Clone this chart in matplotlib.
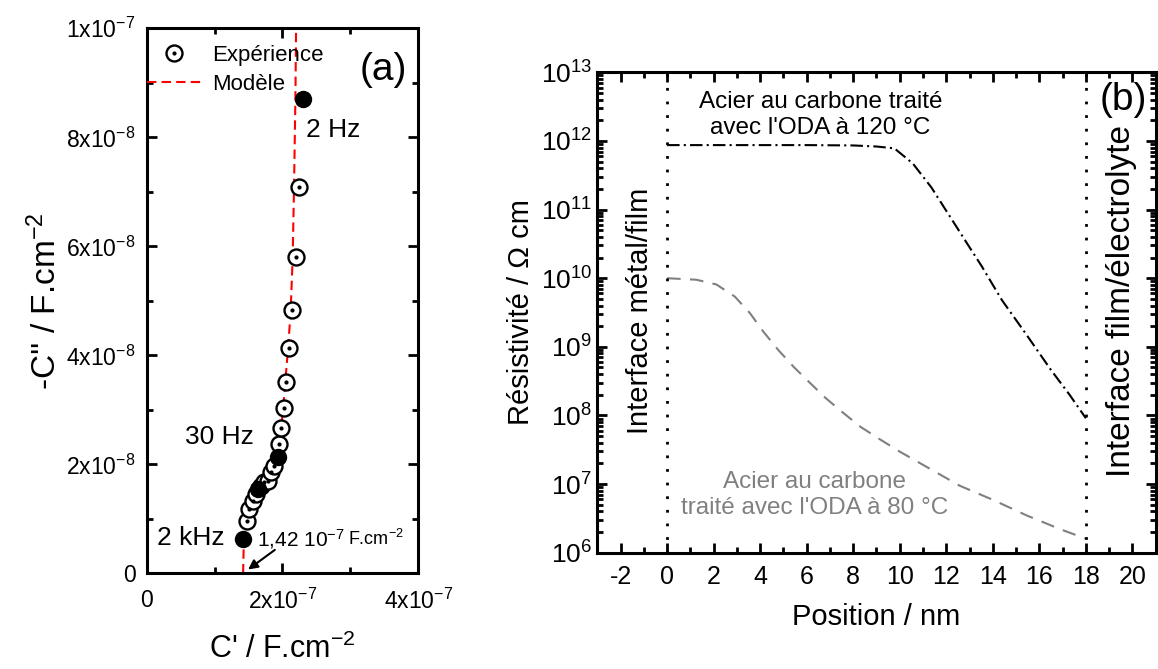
import numpy as np
import matplotlib
matplotlib.use("Agg")
import matplotlib.pyplot as plt
from matplotlib.ticker import LogLocator, NullFormatter, MultipleLocator

plt.rcParams['font.family'] = ['Liberation Sans', 'DejaVu Sans']
plt.rcParams['mathtext.default'] = 'regular'
plt.rcParams['axes.unicode_minus'] = False

# ---- panel (a): C'' vs C' ----
exp_x = [1.479e-7, 1.512e-7, 1.561e-7, 1.611e-7, 1.683e-7, 1.733e-7, 1.780e-7, 1.830e-7,
         1.878e-7, 1.952e-7, 1.985e-7, 2.015e-7, 2.050e-7, 2.094e-7, 2.138e-7, 2.196e-7, 2.245e-7]
exp_y = [0.969e-8, 1.188e-8, 1.335e-8, 1.457e-8, 1.610e-8, 1.670e-8, 1.700e-8, 1.852e-8,
         1.974e-8, 2.382e-8, 2.664e-8, 3.040e-8, 3.505e-8, 4.126e-8, 4.832e-8, 5.808e-8, 7.081e-8]
filled_x = [1.414e-7, 1.634e-7, 1.937e-7, 2.303e-7]
filled_y = [0.634e-8, 1.548e-8, 2.126e-8, 8.702e-8]
model_x = [1.42e-7, 1.43e-7, 1.48e-7, 1.56e-7, 1.65e-7, 1.76e-7, 1.86e-7, 1.93e-7, 1.97e-7,
           2.01e-7, 2.04e-7, 2.08e-7, 2.12e-7, 2.15e-7, 2.17e-7, 2.19e-7, 2.20e-7]
model_y = [0.0, 0.6e-8, 1.0e-8, 1.35e-8, 1.55e-8, 1.72e-8, 1.95e-8, 2.2e-8, 2.6e-8,
           3.0e-8, 3.5e-8, 4.1e-8, 4.8e-8, 5.8e-8, 7.1e-8, 8.7e-8, 10e-8]

a_xticks = [0, 2e-7, 4e-7]
a_xlabels = ['0', r'2x10$^{-7}$', r'4x10$^{-7}$']
a_yticks = [0, 2e-8, 4e-8, 6e-8, 8e-8, 1e-7]
a_ylabels = ['0', r'2x10$^{-8}$', r'4x10$^{-8}$', r'6x10$^{-8}$', r'8x10$^{-8}$', r'1x10$^{-7}$']

# ---- panel (b): resistivity profiles ----
pos_120 = [0, 2, 4, 6, 8, 9, 9.77, 10.56, 11.36, 12.08, 12.8, 13.52, 14.39, 15.39, 16.5, 17.3, 18]
rho_120 = [8.7e11, 8.7e11, 8.7e11, 8.7e11, 8.6e11, 8.3e11, 7.8e11, 4.7e11, 2.1e11, 8.7e10,
           3.6e10, 1.5e10, 4.8e9, 1.6e9, 4.6e8, 2.0e8, 9.1e7]
pos_80 = [0, 1.26, 2.12, 2.91, 3.56, 4.14, 4.79, 5.44, 6.09, 6.81, 7.53, 8.32, 9.19, 9.98,
          11.13, 12.57, 14.0, 15.45, 16.9, 18]
rho_80 = [1.0e10, 9.5e9, 8.1e9, 5.4e9, 3.1e9, 1.66e9, 8.9e8, 5.1e8, 3.1e8, 1.8e8, 1.12e8,
          6.8e7, 4.4e7, 3.0e7, 1.8e7, 9.5e6, 5.9e6, 3.5e6, 2.2e6, 1.6e6]
interfaces = [0, 18]

fig = plt.figure(figsize=(11.58, 6.69), dpi=100)
ax1 = fig.add_axes([0.1267, 0.143, 0.2345, 0.8147])
ax2 = fig.add_axes([0.5158, 0.1738, 0.4822, 0.7181])

for ax in (ax1, ax2):
    for s in ax.spines.values():
        s.set_linewidth(2.2)
    ax.tick_params(which='both', direction='in', top=True, right=True, width=2)
    ax.tick_params(which='major', length=7)
    ax.tick_params(which='minor', length=4)

# panel a
ln_model, = ax1.plot(model_x, model_y, color='red', lw=1.5, ls=(0, (4.5, 2.5)), zorder=2)
circ, = ax1.plot(exp_x, exp_y, 'o', ms=11.5, mfc='white', mec='black', mew=1.7, ls='none', zorder=3)
dot, = ax1.plot(exp_x, exp_y, 'o', ms=2, color='black', ls='none', zorder=4)
ax1.plot(filled_x, filled_y, 'o', ms=11.5, color='black', ls='none', zorder=5)
ax1.set_xlim(0, 4e-7)
ax1.set_ylim(0, 1e-7)
ax1.set_xticks(a_xticks, a_xlabels)
ax1.set_yticks(a_yticks, a_ylabels)
ax1.xaxis.set_minor_locator(MultipleLocator(1e-7))
ax1.yaxis.set_minor_locator(MultipleLocator(1e-8))
ax1.tick_params(labelsize=16.5)
ax1.tick_params(axis='x', pad=11)
ax1.tick_params(axis='y', pad=8)
ax1.set_xlabel(r"C' / F.cm$^{-2}$", fontsize=22, labelpad=14)
ax1.set_ylabel(r"-C'' / F.cm$^{-2}$", fontsize=24, labelpad=2)
ax1.legend([(circ, dot), ln_model], ['Expérience', 'Modèle'], loc='upper left',
           bbox_to_anchor=(0, 0.97), frameon=False, fontsize=16, handlelength=2.45,
           borderaxespad=0, handletextpad=0.5, labelspacing=0.38, borderpad=0)
ax1.text(3.49e-7, 9.23e-8, '(a)', fontsize=28, ha='center', va='center')
ax1.text(2.35e-7, 8.14e-8, '2 Hz', fontsize=19, ha='left', va='center')
ax1.text(0.56e-7, 2.50e-8, '30 Hz', fontsize=19, ha='left', va='center')
ax1.text(0.15e-7, 0.64e-8, '2 kHz', fontsize=19, ha='left', va='center')
ax1.text(1.62e-7, 0.62e-8, r'1,42 10$^{-7}$', fontsize=15, ha='left', va='center')
ax1.text(2.97e-7, 0.64e-8, r'F.cm$^{-2}$', fontsize=13, ha='left', va='center')
ax1.annotate('', xy=(1.46e-7, 0.04e-8), xytext=(1.92e-7, 0.46e-8),
             arrowprops=dict(arrowstyle='-|>', color='black', lw=1.5, mutation_scale=14))

# panel b
ax2.plot(pos_120, rho_120, color='black', lw=1.5, ls=(0, (6, 2, 1, 2)))
ax2.plot(pos_80, rho_80, color='#808080', lw=1.5, ls=(0, (6.5, 4.5)))
for xi in interfaces:
    ax2.axvline(xi, color='black', lw=2, ls=(0, (1, 3.9)))
ax2.set_yscale('log')
ax2.set_xlim(-3, 21)
ax2.set_ylim(1e6, 1e13)
ax2.set_xticks(np.arange(-2, 21, 2))
ax2.xaxis.set_minor_locator(MultipleLocator(1))
ax2.yaxis.set_major_locator(LogLocator(base=10, numticks=20))
ax2.yaxis.set_minor_locator(LogLocator(base=10, subs=np.arange(2, 10), numticks=20))
ax2.yaxis.set_minor_formatter(NullFormatter())
ax2.tick_params(labelsize=18)
ax2.tick_params(axis='y', labelsize=19)
ax2.tick_params(axis='x', pad=9)
ax2.set_xlabel('Position / nm', fontsize=21, labelpad=10)
ax2.set_ylabel('Résistivité / Ω cm', fontsize=21, labelpad=4)
ax2.text(6.6, 2.4e12, "Acier au carbone traité\navec l'ODA à 120 °C", fontsize=17.5,
         ha='center', va='center', linespacing=1.2)
ax2.text(6.35, 6.9e6, "Acier au carbone\ntraité avec l'ODA à 80 °C", fontsize=17.5,
         color='#808080', ha='center', va='center', linespacing=1.2)
ax2.text(-1.16, 3.3e9, 'Interface métal/film', fontsize=21, rotation=90, ha='center', va='center')
ax2.text(19.55, 4.6e9, 'Interface film/électrolyte', fontsize=24, rotation=90, ha='center', va='center')
ax2.text(19.6, 4.0e12, '(b)', fontsize=28, ha='center', va='center')

fig.savefig('out.png', dpi=100)
